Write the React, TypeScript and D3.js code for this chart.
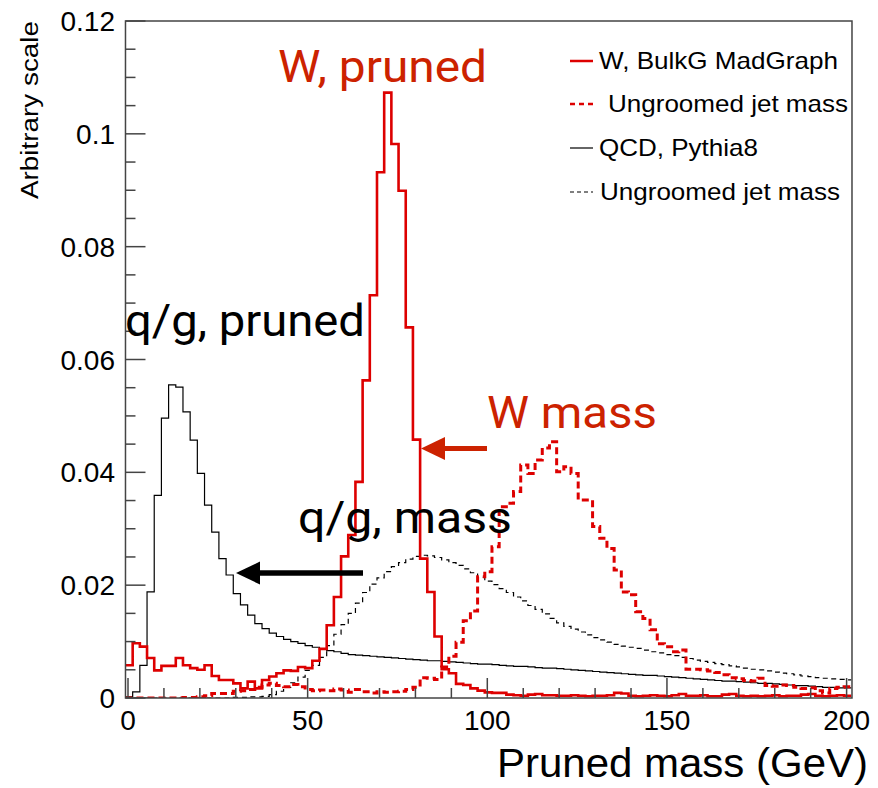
import React from 'react';
import * as d3 from 'd3';

// Histogram binning (GeV)
const BIN_START = -0.7;
const BIN_WIDTH = 2;

// W, BulkG MadGraph — pruned jet mass
const wPruned = [
  0.0058, 0.0097, 0.0091, 0.0071, 0.0049, 0.0057, 0.0057, 0.0071, 0.0058, 0.0053,
  0.0050, 0.0058, 0.0039, 0.0032, 0.0032, 0.0026, 0.0017, 0.0029, 0.0017, 0.0032,
  0.0038, 0.0044, 0.0049, 0.0048, 0.0055, 0.0053, 0.0066, 0.0087, 0.0129, 0.0179,
  0.0251, 0.0289, 0.0383, 0.0563, 0.0714, 0.0932, 0.1073, 0.0982, 0.0899, 0.0657,
  0.0458, 0.0247, 0.0188, 0.0109, 0.0051, 0.0044, 0.0025, 0.0023, 0.0017, 0.0013,
  0.0010, 0.0009, 0.0009, 0.0006, 0.0005, 0.0004, 0.0006, 0.0007, 0.0005, 0.0005,
  0.0004, 0.0004, 0.0005, 0.0004, 0.0003, 0.0004, 0.0004, 0.0005, 0.0009, 0.0008,
  0.0004, 0.0003, 0.0004, 0.0005, 0.0004, 0.0003, 0.0005, 0.0007, 0.0004, 0.0004,
  0.0005, 0.0003, 0.0003, 0.0006, 0.0007, 0.0004, 0.0003, 0.0004, 0.0003, 0.0004,
  0.0005, 0.0003, 0.0004, 0.0004, 0.0006, 0.0007, 0.0004, 0.0003, 0.0004, 0.0005,
  0.0004,
];

// W, ungroomed jet mass
const wUngroomed = [
  0.0000, 0.0000, 0.0000, 0.0000, 0.0000, 0.0000, 0.0000, 0.0000, 0.0001, 0.0001,
  0.0002, 0.0004, 0.0008, 0.0008, 0.0008, 0.0012, 0.0013, 0.0015, 0.0019, 0.0023,
  0.0026, 0.0022, 0.0020, 0.0024, 0.0020, 0.0015, 0.0013, 0.0014, 0.0013, 0.0016,
  0.0014, 0.0010, 0.0015, 0.0011, 0.0009, 0.0011, 0.0010, 0.0011, 0.0012, 0.0015,
  0.0019, 0.0036, 0.0035, 0.0033, 0.0055, 0.0074, 0.0099, 0.0137, 0.0154, 0.0215,
  0.0224, 0.0268, 0.0339, 0.0345, 0.0366, 0.0413, 0.0398, 0.0422, 0.0443, 0.0454,
  0.0401, 0.0410, 0.0398, 0.0351, 0.0351, 0.0304, 0.0283, 0.0265, 0.0227, 0.0188,
  0.0183, 0.0153, 0.0141, 0.0121, 0.0096, 0.0091, 0.0082, 0.0085, 0.0051, 0.0051,
  0.0050, 0.0048, 0.0045, 0.0041, 0.0036, 0.0034, 0.0031, 0.0030, 0.0035, 0.0022,
  0.0021, 0.0023, 0.0022, 0.0019, 0.0017, 0.0018, 0.0013, 0.0009, 0.0017, 0.0019,
  0.0020,
];

// QCD, Pythia8 — pruned jet mass
const qcdPruned = [
  0.0002, 0.0011, 0.0058, 0.0188, 0.0359, 0.0496, 0.0555, 0.0551, 0.0507, 0.0457,
  0.0398, 0.0342, 0.0294, 0.0247, 0.0218, 0.0185, 0.0165, 0.0147, 0.0132, 0.0123,
  0.0115, 0.0109, 0.0104, 0.0100, 0.0097, 0.0093, 0.0090, 0.0086, 0.0084, 0.0082,
  0.0079, 0.0077, 0.0076, 0.0075, 0.0074, 0.0073, 0.0072, 0.0071, 0.0070, 0.0069,
  0.0068, 0.0067, 0.0066, 0.0066, 0.0065, 0.0064, 0.0063, 0.0062, 0.0061, 0.0060,
  0.0060, 0.0059, 0.0058, 0.0057, 0.0056, 0.0056, 0.0055, 0.0054, 0.0053, 0.0053,
  0.0052, 0.0051, 0.0050, 0.0049, 0.0048, 0.0047, 0.0046, 0.0045, 0.0044, 0.0043,
  0.0042, 0.0041, 0.0040, 0.0040, 0.0039, 0.0038, 0.0037, 0.0036, 0.0035, 0.0034,
  0.0033, 0.0032, 0.0031, 0.0030, 0.0030, 0.0029, 0.0028, 0.0027, 0.0026, 0.0026,
  0.0025, 0.0024, 0.0023, 0.0022, 0.0022, 0.0021, 0.0020, 0.0019, 0.0019, 0.0018,
  0.0018,
];

// QCD, ungroomed jet mass
const qcdUngroomed = [
  0.0000, 0.0000, 0.0000, 0.0000, 0.0000, 0.0000, 0.0000, 0.0000, 0.0000, 0.0000,
  0.0000, 0.0000, 0.0000, 0.0000, 0.0000, 0.0001, 0.0001, 0.0002, 0.0002, 0.0003,
  0.0006, 0.0012, 0.0019, 0.0027, 0.0037, 0.0049, 0.0058, 0.0072, 0.0093, 0.0113,
  0.0130, 0.0150, 0.0168, 0.0187, 0.0202, 0.0213, 0.0224, 0.0233, 0.0240, 0.0246,
  0.0251, 0.0253, 0.0252, 0.0249, 0.0245, 0.0240, 0.0235, 0.0229, 0.0222, 0.0214,
  0.0207, 0.0201, 0.0194, 0.0187, 0.0179, 0.0172, 0.0164, 0.0157, 0.0149, 0.0141,
  0.0133, 0.0127, 0.0122, 0.0117, 0.0112, 0.0107, 0.0103, 0.0099, 0.0095, 0.0092,
  0.0090, 0.0088, 0.0085, 0.0082, 0.0080, 0.0077, 0.0075, 0.0072, 0.0070, 0.0067,
  0.0065, 0.0063, 0.0061, 0.0059, 0.0057, 0.0055, 0.0053, 0.0051, 0.0050, 0.0048,
  0.0046, 0.0044, 0.0043, 0.0041, 0.0039, 0.0038, 0.0036, 0.0035, 0.0034, 0.0033,
  0.0032,
];

const xTicksMajor = [0, 50, 100, 150, 200];
const xTicksMinor = d3.range(0, 201, 10);
const yTicksMajor = [0, 0.02, 0.04, 0.06, 0.08, 0.1, 0.12];
const yTickLabels = ['0', '0.02', '0.04', '0.06', '0.08', '0.1', '0.12'];
const yTicksMinor = d3.range(0, 0.1201, 0.005);

const legendLabels = ['W, BulkG MadGraph', 'Ungroomed jet mass', 'QCD, Pythia8', 'Ungroomed jet mass'];

const RED = '#dd0000';
const RED_TEXT = '#cc2200';

export default function App() {
  const W = 878;
  const H = 788;
  const x = d3.scaleLinear().domain([0, 200]).range([128, 846.6]);
  const y = d3.scaleLinear().domain([0, 0.12]).range([698, 21]);
  const frameL = x(-0.7);
  const frameR = x(201.5);
  const frameT = y(0.12);
  const frameB = y(0);

  const histPath = (vals: number[]) => {
    const pts: [number, number][] = vals.map((v, i) => [BIN_START + i * BIN_WIDTH, v]);
    pts.push([BIN_START + vals.length * BIN_WIDTH, vals[vals.length - 1]]);
    const line = d3
      .line<[number, number]>()
      .x((d) => x(d[0]))
      .y((d) => y(d[1]))
      .curve(d3.curveStepAfter);
    return line(pts) || '';
  };

  const axisColor = '#444';
  const helv = "'Liberation Sans', Arial, Helvetica, sans-serif";
  const anno = "Roboto, 'Liberation Sans', sans-serif";

  const legendY = [61, 104, 148, 192];
  const legendTextX = [599, 608, 599, 600];
  const legendTextLen = [239, 240, 159, 240];
  const legendStyles = [
    { stroke: RED, width: 2.5, dash: undefined },
    { stroke: RED, width: 2.5, dash: '5,4' },
    { stroke: '#000', width: 1.2, dash: undefined },
    { stroke: '#000', width: 1.2, dash: '4,3' },
  ];

  return (
    <svg
      width={W}
      height={H}
      style={{ position: 'absolute', left: 0, top: 0, background: '#fff' }}
      xmlns="http://www.w3.org/2000/svg"
    >
      <defs>
        <clipPath id="frameClip">
          <rect x={frameL} y={frameT} width={frameR - frameL} height={frameB - frameT} />
        </clipPath>
      </defs>
      <rect x={0} y={0} width={W} height={H} fill="#fff" />

      {/* histograms */}
      <g clipPath="url(#frameClip)" fill="none">
        <path d={histPath(qcdUngroomed)} stroke="#000" strokeWidth={1.2} strokeDasharray="5,4" />
        <path d={histPath(qcdPruned)} stroke="#000" strokeWidth={1.2} />
        <path d={histPath(wUngroomed)} stroke={RED} strokeWidth={3} strokeDasharray="7,4" />
        <path d={histPath(wPruned)} stroke={RED} strokeWidth={2.6} />
      </g>

      {/* ticks */}
      <g stroke={axisColor} strokeWidth={1.5}>
        {xTicksMinor.map((t) => {
          const major = t % 50 === 0;
          return <line key={'xm' + t} x1={x(t)} x2={x(t)} y1={frameB} y2={frameB - (major ? 20 : 10)} />;
        })}
        {yTicksMinor.map((t, i) => {
          const major = i % 4 === 0;
          return <line key={'ym' + i} x1={frameL} x2={frameL + (major ? 20 : 10)} y1={y(t)} y2={y(t)} />;
        })}
      </g>

      {/* frame */}
      <rect x={frameL} y={frameT} width={frameR - frameL} height={frameB - frameT} fill="none" stroke={axisColor} strokeWidth={1.5} />

      {/* tick labels */}
      <g fontFamily={helv} fontSize={28} fill="#000">
        {xTicksMajor.map((t) => (
          <text key={'xl' + t} x={x(t)} y={730} textAnchor="middle">
            {t}
          </text>
        ))}
        {yTicksMajor.map((t, i) => (
          <text key={'yl' + i} x={115} y={y(t)} dy="0.36em" textAnchor="end">
            {yTickLabels[i]}
          </text>
        ))}
      </g>

      {/* axis titles */}
      <text
        x={497}
        y={777}
        fontFamily={helv}
        fontSize={41}
        fill="#000"
        textLength={371}
        lengthAdjust="spacingAndGlyphs"
      >
        Pruned mass (GeV)
      </text>
      <text
        transform={`translate(38, ${frameT + 178}) rotate(-90)`}
        fontFamily={helv}
        fontSize={23}
        fill="#000"
        textLength={178}
        lengthAdjust="spacingAndGlyphs"
      >
        Arbitrary scale
      </text>

      {/* legend */}
      <g fontFamily={helv} fontSize={24} fill="#000">
        {legendLabels.map((lab, i) => (
          <g key={'lg' + i}>
            <line
              x1={570}
              x2={593}
              y1={legendY[i]}
              y2={legendY[i]}
              stroke={legendStyles[i].stroke}
              strokeWidth={legendStyles[i].width}
              strokeDasharray={legendStyles[i].dash}
            />
            <text
              x={legendTextX[i]}
              y={legendY[i]}
              dy="0.35em"
              textLength={legendTextLen[i]}
              lengthAdjust="spacingAndGlyphs"
            >
              {lab}
            </text>
          </g>
        ))}
      </g>

      {/* annotations */}
      <g fontFamily={anno} fontSize={45} lengthAdjust="spacingAndGlyphs">
        <text x={278} y={82} fill={RED_TEXT} textLength={209} lengthAdjust="spacingAndGlyphs">W, pruned</text>
        <text x={125} y={336} fill="#000" textLength={240} lengthAdjust="spacingAndGlyphs">q/g, pruned</text>
        <text x={487} y={428} fill={RED_TEXT} textLength={170} lengthAdjust="spacingAndGlyphs">W mass</text>
        <text x={298} y={533} fill="#000" textLength={214} lengthAdjust="spacingAndGlyphs">q/g, mass</text>
      </g>

      {/* arrows */}
      <line x1={487} x2={440} y1={448.5} y2={448.5} stroke={RED_TEXT} strokeWidth={5} />
      <path d="M421,448.5 L445,437 L445,460 Z" fill={RED_TEXT} />
      <line x1={363} x2={255} y1={573} y2={573} stroke="#000" strokeWidth={5.5} />
      <path d="M236,573 L260,561.5 L260,584.5 Z" fill="#000" />
    </svg>
  );
}
